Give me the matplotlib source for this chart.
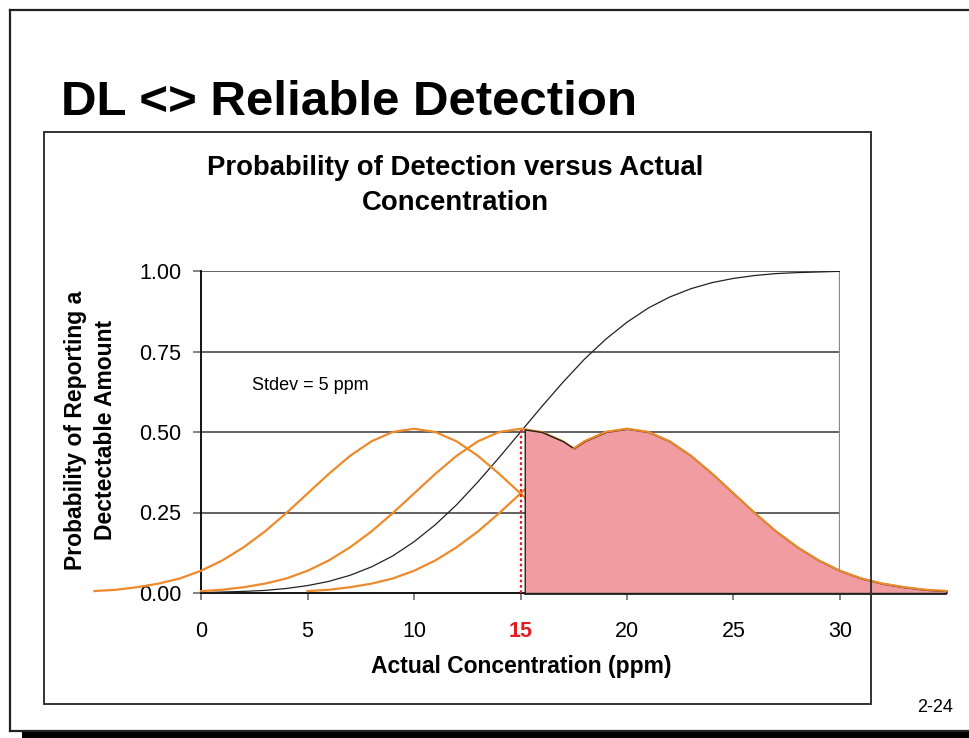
import matplotlib
matplotlib.use("Agg")
import matplotlib.pyplot as plt
from matplotlib.patches import Rectangle
from matplotlib.lines import Line2D

# --- data ---
# bell-shaped probability curves (same shape, shifted), one point per ppm
bell_vals = [0.006, 0.010, 0.018, 0.029, 0.045, 0.069, 0.101, 0.142, 0.191, 0.248,
             0.309, 0.370, 0.426, 0.471, 0.500, 0.510, 0.500, 0.471, 0.426, 0.370,
             0.309, 0.248, 0.191, 0.142, 0.101, 0.069, 0.045, 0.029, 0.018, 0.010, 0.006]
x_c10 = list(range(-5, 26))
x_c15 = list(range(0, 31))
x_c20 = list(range(5, 36))

# cumulative probability of detection (black curve)
cdf_x = list(range(0, 31))
cdf_vals = [0.001, 0.003, 0.005, 0.008, 0.014, 0.023, 0.036, 0.055, 0.081, 0.115,
            0.159, 0.212, 0.274, 0.345, 0.421, 0.500, 0.579, 0.655, 0.726, 0.788,
            0.841, 0.885, 0.919, 0.945, 0.964, 0.977, 0.986, 0.992, 0.995, 0.997, 0.999]

# shaded area: right of 15 ppm, under the upper of the two right curves
shade_x = [15.2, 16, 17, 17.5, 18, 19, 20, 21, 22, 23, 24, 25, 26, 27, 28, 29,
           30, 31, 32, 33, 34, 35]
shade_top = [0.508, 0.500, 0.471, 0.449, 0.471, 0.500, 0.510, 0.500, 0.471, 0.426,
             0.370, 0.309, 0.248, 0.191, 0.142, 0.101, 0.069, 0.045, 0.029, 0.018,
             0.010, 0.006]

xticks = [0, 5, 10, 15, 20, 25, 30]
yticks = [0.0, 0.25, 0.5, 0.75, 1.0]
ytick_labels = ["0.00", "0.25", "0.50", "0.75", "1.00"]

ORANGE = "#EC8A2C"
PINK = "#F09CA1"
FONT = "Liberation Sans"

W, H = 970, 738


def fx(px):
    return px / W


def fy(py):
    return 1 - py / H


fig = plt.figure(figsize=(9.7, 7.38), dpi=100)
fig.patch.set_facecolor("white")

# slide frame + shadow
fig.add_artist(Line2D([fx(10), fx(10)], [fy(10), fy(731)], color="#222222", lw=1.6))
fig.add_artist(Line2D([fx(10), fx(970)], [fy(10), fy(10)], color="#222222", lw=1.6))
fig.add_artist(Line2D([fx(10), fx(970)], [fy(731), fy(731)], color="#222222", lw=1.6))
fig.add_artist(Rectangle((fx(22), fy(738)), fx(948), 7 / H, color="black", lw=0))

# chart box
fig.add_artist(Rectangle((fx(44), fy(704)), fx(827), 572 / H, fill=False,
                         edgecolor="#333333", lw=1.4))

fig.text(fx(61), fy(115), "DL <> Reliable Detection", family=FONT,
         fontweight="bold", fontsize=35.5, va="baseline", ha="left")

fig.text(fx(455), fy(168), "Probability of Detection versus Actual", family=FONT,
         fontweight="bold", fontsize=19.8, ha="center", va="center")
fig.text(fx(455), fy(203), "Concentration", family=FONT,
         fontweight="bold", fontsize=19.8, ha="center", va="center")

fig.text(fx(76), fy(430), "Probability of Reporting a", family=FONT, fontweight="bold",
         fontsize=16.5, rotation=90, ha="center", va="center")
fig.text(fx(106), fy(430), "Dectectable Amount", family=FONT, fontweight="bold",
         fontsize=16.5, rotation=90, ha="center", va="center")

fig.text(fx(521), fy(667), "Actual Concentration (ppm)", family=FONT, fontweight="bold",
         fontsize=16.5, ha="center", va="center")

fig.text(fx(935), fy(707), "2-24", family=FONT, fontsize=13, ha="center", va="center")

ax = fig.add_axes([fx(201), fy(593), (840 - 201) / W, (593 - 271) / H])
ax.set_xlim(0, 30)
ax.set_ylim(0, 1)
ax.set_facecolor("none")

for yv in yticks[1:]:
    ax.axhline(yv, color="#555555", lw=1.3, zorder=1)
ax.plot([30, 30], [0, 1], color="#888888", lw=1.6, zorder=1)

for s in ["top", "right"]:
    ax.spines[s].set_visible(False)
ax.spines["left"].set_color("black")
ax.spines["left"].set_linewidth(1.3)
ax.spines["bottom"].set_color("black")
ax.spines["bottom"].set_linewidth(1.3)
ax.spines["bottom"].set_bounds(0, 30.3)

ax.plot(cdf_x, cdf_vals, color="#222222", lw=0.9, zorder=3)

for xs in (x_c10, x_c15, x_c20):
    ax.plot(xs, bell_vals, color=ORANGE, lw=1.6, zorder=4, clip_on=False)

ax.fill_between(shade_x, 0, shade_top, facecolor=PINK, edgecolor="#222222",
                lw=1.0, zorder=5, clip_on=False)
ax.plot(shade_x[3:], shade_top[3:], color=ORANGE, lw=1.4, zorder=6, clip_on=False)
ax.plot([shade_x[0], shade_x[-1]], [-0.003, -0.003], color="#222222", lw=1.3,
        zorder=6, clip_on=False)

ax.plot([15, 15], [0, 0.51], color="#E02020", lw=1.6, ls=(0, (1.2, 1.2)), zorder=7)

ax.text(2.4, 0.645, "Stdev = 5 ppm", family=FONT, fontsize=13, ha="left", va="center")

ax.set_xticks(xticks)
ax.set_xticklabels([str(v) for v in xticks], family=FONT, fontsize=15.5)
ax.set_yticks(yticks)
ax.set_yticklabels(ytick_labels, family=FONT, fontsize=15.5)
ax.tick_params(axis="x", direction="out", length=5, width=1.3, color="#777777", pad=15)
ax.tick_params(axis="y", direction="out", length=6, width=1.3, color="#777777", pad=8)
for lbl in ax.get_xticklabels():
    if lbl.get_text() == "15":
        lbl.set_color("#E02020")
        lbl.set_fontweight("bold")

fig.savefig("out.png", dpi=100)
